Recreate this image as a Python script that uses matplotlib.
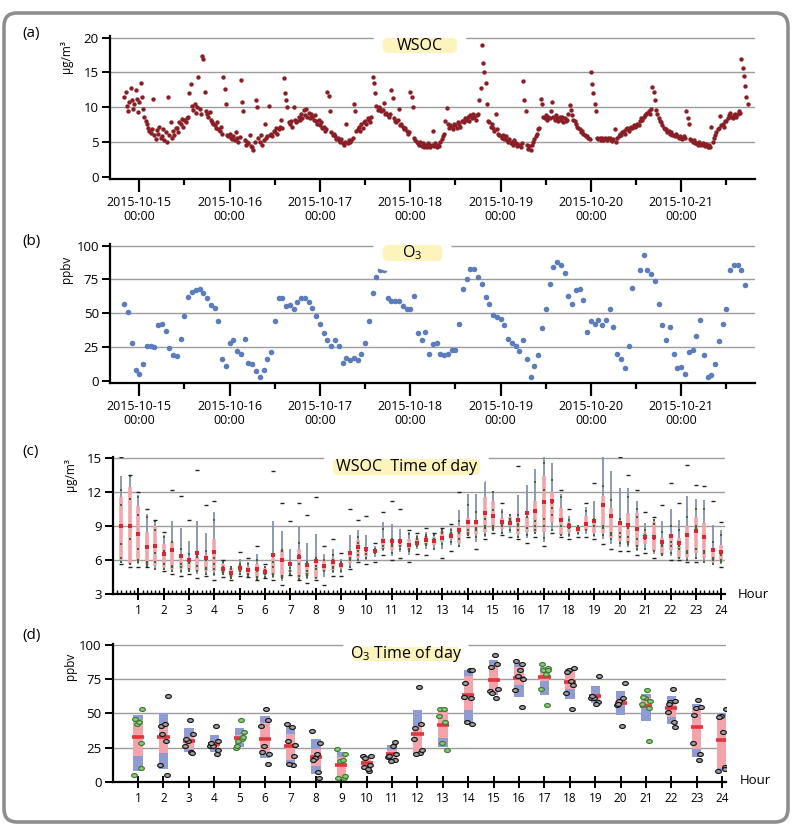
import numpy as np
import matplotlib
matplotlib.use('Agg')
import matplotlib.pyplot as plt
from matplotlib.patches import FancyBboxPatch
from matplotlib.path import Path

plt.rcParams['font.family'] = ['Open Sans', 'DejaVu Sans']
plt.rcParams['mathtext.fontset'] = 'custom'
plt.rcParams['mathtext.rm'] = 'Open Sans'

# ---------------- data ----------------
# WSOC (ug/m3), every 20 min, first sample 2015-10-14 20:00 (hour -4 relative to 10-15 00:00)
WSOC_START_H = -4
WSOC_STEP_H = 1 / 3
wsoc = [
    11.5, 12.2, 10.2, 9.5, 10.8, 12.8, 11.0, 9.8, 10.5, 12.5, 11.2, 9.3,
    # 10-15
    10.8, 13.5, 11.5, 9.8, 8.6, 8.0, 7.6, 7.0, 6.5, 6.3, 6.8, 11.2,
    6.0, 5.4, 6.7, 6.2, 7.2, 5.6, 5.8, 6.9, 5.3, 6.4, 5.0, 11.5,
    6.0, 7.8, 5.5, 6.6, 6.0, 7.0, 7.0, 6.4, 7.8, 7.5, 8.3, 7.2,
    8.2, 7.8, 8.5, 8.6, 12.0, 13.4, 10.2, 9.6, 10.4, 9.2, 10.0, 14.3,
    9.8, 9.0, 17.3, 16.9, 12.2, 9.5, 9.0, 8.6, 9.3, 8.2, 7.8, 7.5,
    7.4, 7.0, 7.8, 6.8, 6.5, 7.2, 6.2, 14.4, 12.6, 10.5, 6.0, 5.8,
    # 10-16
    6.2, 5.6, 5.4, 5.8, 5.2, 6.4, 5.5, 5.0, 5.7, 13.9, 10.8, 9.5,
    5.2, 4.6, 5.0, 4.8, 6.0, 4.4, 4.2, 3.8, 5.0, 11.0, 10.0, 5.5,
    5.0, 6.0, 4.6, 5.2, 7.5, 5.6, 5.8, 10.2, 6.0, 6.2, 5.8, 6.5,
    6.4, 7.0, 6.2, 6.8, 7.2, 8.2, 7.0, 14.2, 12.0, 11.0, 10.0, 7.8,
    7.5, 8.0, 7.2, 10.0, 8.2, 7.8, 8.0, 8.6, 8.2, 9.0, 8.4, 9.6,
    8.8, 9.8, 8.6, 9.2, 8.5, 9.0, 8.6, 8.2, 8.8, 8.0, 7.6, 8.2,
    # 10-17
    7.4, 7.8, 7.0, 7.2, 6.6, 6.8, 12.2, 11.6, 9.5, 6.4, 6.0, 6.2,
    5.8, 5.4, 5.6, 5.2, 5.0, 5.4, 4.8, 4.6, 5.0, 7.5, 4.8, 5.2,
    5.0, 5.3, 5.5, 10.5, 9.5, 6.5, 6.8, 7.2, 6.6, 7.5, 7.0, 7.8,
    8.0, 7.6, 8.4, 8.2, 7.8, 8.6, 14.3, 13.5, 12.0, 10.2, 9.6, 10.0,
    9.8, 9.4, 9.6, 10.6, 9.0, 9.2, 8.8, 8.6, 9.0, 12.5, 11.3, 8.4,
    8.0, 7.8, 8.2, 9.8, 7.4, 7.6, 7.2, 6.8, 7.0, 6.6, 6.2, 6.4,
    # 10-18
    12.2, 11.4, 10.0, 5.6, 5.2, 5.0, 4.8, 4.6, 5.0, 4.4, 4.8, 4.2,
    4.5, 4.2, 4.8, 4.6, 4.3, 4.5, 6.5, 4.4, 4.8, 4.2, 4.6, 4.4,
    5.0, 5.4, 5.8, 6.2, 8.0, 9.9, 7.5, 7.0, 7.4, 7.2, 6.8, 7.6,
    7.4, 7.0, 7.8, 7.6, 7.2, 8.0, 8.0, 7.8, 8.4, 8.2, 8.6, 8.0,
    8.8, 8.4, 9.0, 8.6, 8.2, 8.8, 9.0, 11.0, 12.8, 18.9, 16.3, 15.1,
    13.5, 10.5, 8.0, 7.8, 7.2, 7.6, 7.0, 6.6, 9.0, 6.8, 6.2, 6.0,
    # 10-19
    5.8, 5.6, 6.0, 5.4, 5.8, 5.2, 5.0, 5.4, 4.8, 5.0, 4.6, 5.2,
    4.8, 4.4, 4.6, 4.5, 4.2, 4.8, 13.8, 11.0, 9.4, 4.6, 4.0, 4.4,
    3.8, 4.6, 5.0, 5.4, 5.8, 6.2, 6.8, 7.0, 11.2, 10.5, 8.6, 8.4,
    8.8, 8.2, 8.6, 8.4, 9.4, 10.8, 8.6, 8.2, 8.8, 8.4, 8.0, 8.6,
    8.2, 8.6, 7.9, 8.4, 8.0, 8.2, 9.0, 10.3, 9.6, 8.8, 8.2, 8.0,
    7.6, 7.2, 7.0, 6.8, 6.4, 6.6, 6.2, 6.0, 5.8, 5.8, 5.6, 5.4,
    # 10-20
    15.1, 13.4, 12.0, 10.5, 9.5, 5.6, 5.4, 5.6, 5.2, 5.5, 5.3, 5.6,
    5.4, 5.2, 5.5, 5.6, 5.3, 5.1, 5.4, 6.8, 5.0, 5.6, 5.8, 6.2,
    6.0, 6.4, 6.6, 6.2, 6.8, 7.0, 6.6, 7.0, 7.2, 7.0, 7.4, 7.2,
    7.3, 7.6, 7.4, 8.0, 8.4, 8.2, 8.6, 8.8, 9.0, 9.2, 9.4, 9.0,
    9.8, 12.9, 12.2, 11.0, 9.6, 9.0, 8.4, 8.0, 7.8, 7.4, 7.0, 6.8,
    6.8, 6.4, 6.6, 6.2, 6.4, 6.0, 6.0, 5.8, 6.2, 5.8, 5.6, 5.9,
    # 10-21
    5.6, 5.4, 5.8, 5.5, 9.4, 8.5, 7.6, 5.4, 5.2, 5.0, 5.2, 4.8,
    4.9, 4.6, 5.0, 4.7, 4.5, 4.8, 4.6, 4.4, 4.7, 4.3, 4.5, 4.2,
    7.2, 5.0, 5.6, 6.0, 6.4, 6.8, 7.0, 8.7, 7.4, 7.6, 7.2, 8.0,
    8.0, 8.4, 8.8, 9.2, 8.6, 8.4, 8.8, 9.0, 8.6, 9.0, 9.4, 9.2,
    16.9, 15.6, 14.5, 13.0, 11.5, 10.5,
]

# O3 (ppbv), hourly, first sample 2015-10-14 20:00
O3_START_H = -4
nan = float('nan')
o3 = [
    57, 51, 28, 8,
    # 10-15
    5, 12, 26, 26, 25, 41, 42, 37, 24, 19, 18, 31,
    48, 62, 66, 67, 68, 65, 61, 56, 54, 44, 16, 11,
    # 10-16
    28, 30, 22, 20, 31, 13, 12, 7, 3, 8, 16, 21,
    44, 61, 61, 55, 56, 53, 58, 61, 61, 58, 54, 48,
    # 10-17
    42, 35, 30, 26, 30, 26, 13, 17, 15, 17, 15, 20,
    28, 44, 65, 77, 82, 82, 61, 59, 59, 59, 55, 53,
    # 10-18
    53, 63, 35, 30, 36, 20, 27, 28, 20, 19, 20, 23,
    23, 42, 68, 75, 83, 83, 77, 72, 62, 57, 49, 47,
    # 10-19
    46, 41, 31, 28, 26, 22, 30, 16, 3, 11, 19, 39,
    53, 72, 84, 88, 86, 80, 63, 57, 67, 68, 60, 36,
    # 10-20
    44, 42, 45, 41, 45, 53, 40, 20, 16, 9, 26, 69,
    nan, 82, 93, 82, 79, 74, 57, 41, 30, 40, 20, 9,
    # 10-21
    10, 5, 21, 23, 33, 45, 19, 3, 4, 12, 29, 42,
    53, 82, 86, 86, 82, 71,
]

date_ticks_h = [0, 24, 48, 72, 96, 120, 144]
date_labels = ['2015-10-15\n00:00', '2015-10-16\n00:00', '2015-10-17\n00:00',
               '2015-10-18\n00:00', '2015-10-19\n00:00', '2015-10-20\n00:00',
               '2015-10-21\n00:00']
hour_ticks = list(range(1, 25))
hour_labels = [str(h) for h in hour_ticks]
green_hours = [1, 5, 9, 13, 17, 21]

# ---------------- figure ----------------
W, H = 800, 832
fig = plt.figure(figsize=(W / 100, H / 100), dpi=100)


def fx(px):
    return px / W


def fy(py):
    return 1 - py / H


border = FancyBboxPatch((fx(4), fy(822)), fx(784), (822 - 13) / H,
                        boxstyle='round,pad=0,rounding_size=0.016',
                        transform=fig.transFigure, fc='white', ec='#8e8e8e',
                        lw=2.6, zorder=-10)
fig.patches.append(border)

GRID = '#9d9d9d'


def add_axes(l, t, r, b):
    ax = fig.add_axes([fx(l), fy(b), fx(r - l), (b - t) / H])
    ax.set_facecolor('none')
    for s in ['top', 'right']:
        ax.spines[s].set_visible(False)
    for s in ['left', 'bottom']:
        ax.spines[s].set_linewidth(1.6)
    ax.tick_params(axis='y', direction='out', length=6, width=1.4,
                   labelsize=9.5, pad=2)
    return ax


def badge(l, t, r, b, text, size=11):
    p = FancyBboxPatch((fx(l), fy(b)), fx(r - l), (b - t) / H,
                       boxstyle='round,pad=0,rounding_size=0.0125',
                       transform=fig.transFigure, fc='#fcf3bd', ec='white',
                       lw=7, zorder=5)
    fig.patches.append(p)
    fig.text(fx((l + r) / 2), fy((t + b) / 2), text, ha='center', va='center',
             fontsize=size, zorder=6)


def ylab(x, top, text):
    fig.text(fx(x), fy(top), text, rotation=90, ha='center', va='top',
             fontsize=8.5)


def time_axis(ax):
    ax.set_xlim(-7.79, 163.6)
    ax.set_xticks(date_ticks_h)
    ax.set_xticklabels(date_labels, fontsize=9, linespacing=1.15)
    ax.set_xticks([d + 12 for d in date_ticks_h], minor=True)
    ax.tick_params(axis='x', which='major', direction='out', length=9,
                   width=1.6, pad=3)
    ax.tick_params(axis='x', which='minor', direction='out', length=4,
                   width=1.6)


# ---- (a) WSOC time series ----
wsoc_arr = np.array(wsoc, dtype=float)
t_wsoc = WSOC_START_H + np.arange(len(wsoc_arr)) * WSOC_STEP_H
ax_a = add_axes(110, 35.6, 755, 179)
for v in [5, 10, 15, 20]:
    ax_a.axhline(v, color=GRID, lw=1.0, zorder=0)
ax_a.scatter(t_wsoc, wsoc_arr, s=10, c='#8a1e24', lw=0, zorder=3)
ax_a.set_ylim(-0.35, 20.3)
ax_a.set_yticks([0, 5, 10, 15, 20])
time_axis(ax_a)
badge(378, 33, 462, 58, 'WSOC', 11.5)
ylab(67, 40, 'μg/m³')
fig.text(fx(22), fy(33), '(a)', fontsize=11, va='center')

# ---- (b) O3 time series ----
o3_arr = np.array(o3, dtype=float)
t_o3 = O3_START_H + np.arange(len(o3_arr))
ax_b = add_axes(110, 244.4, 755, 383.3)
for v in [25, 50, 75, 100]:
    ax_b.axhline(v, color=GRID, lw=1.0, zorder=0)
ax_b.scatter(t_o3, o3_arr, s=16, c='#5b7cbd', lw=0, zorder=3)
ax_b.set_ylim(-2, 101)
ax_b.set_yticks([0, 25, 50, 75, 100])
time_axis(ax_b)
badge(378, 240, 447, 266, 'O$_{3}$', 11.5)
ylab(66, 256, 'ppbv')
fig.text(fx(22), fy(241), '(b)', fontsize=11, va='center')


def hour_axis(ax, minor):
    ax.set_xlim(0, 24.15)
    ax.set_xticks(hour_ticks)
    ax.set_xticklabels(hour_labels, fontsize=8.5)
    ax.tick_params(axis='x', which='major', direction='inout', length=8,
                   width=1.4, pad=3)
    if minor:
        ax.set_xticks([k / 6 for k in range(1, 145) if k % 6], minor=True)
        ax.tick_params(axis='x', which='minor', direction='in', length=3,
                       width=1.0)


# ---- (c) WSOC time of day ----
ax_c = add_axes(113, 456.6, 725, 594)
for v in [6, 9, 12, 15]:
    ax_c.axhline(v, color=GRID, lw=1.0, zorder=0)
tod_bin = np.round(np.mod(t_wsoc, 24) * 3).astype(int) % 72
xs_in, ys_in, xs_out, ys_out, xm, ym = [], [], [], [], [], []
for b in range(72):
    vals = wsoc_arr[tod_bin == b]
    if len(vals) == 0:
        continue
    x = b / 3 + 1 / 3
    p10, p25, p75, p90 = np.percentile(vals, [10, 25, 75, 90])
    ax_c.vlines(x, p10, p90, color='#8592ad', lw=1.3, zorder=2)
    ax_c.vlines(x, p25, p75, color='#f2a4ab', lw=2.6, zorder=3)
    for v in vals:
        if p10 <= v <= p90:
            xs_in.append(x); ys_in.append(v)
        else:
            xs_out.append(x); ys_out.append(v)
    xm.append(x); ym.append(vals.mean())
ax_c.scatter(xs_in, ys_in, s=3, c='#3f6a3b', marker='s', lw=0, zorder=4)
ax_c.scatter(xs_out, ys_out, s=6, c='#222222', marker='_', lw=1.0, zorder=4)
ax_c.scatter(xm, ym, s=7, c='#d8262f', marker='s', lw=0, zorder=5)
ax_c.set_ylim(3, 15.1)
ax_c.set_yticks([3, 6, 9, 12, 15])
hour_axis(ax_c, True)
badge(328, 454, 485, 480, 'WSOC  Time of day', 11.5)
ylab(70, 458, 'μg/m³')
fig.text(fx(22), fy(452), '(c)', fontsize=11, va='center')
fig.text(fx(738), fy(595), 'Hour', fontsize=9.5, va='center')

# ---- (d) O3 time of day ----
ax_d = add_axes(112.7, 643.6, 726, 782.4)
for v in [25, 50, 75, 100]:
    ax_d.axhline(v, color=GRID, lw=1.0, zorder=0)
hod = np.mod(t_o3, 24).astype(int)
theta = np.linspace(0, 2 * np.pi, 40)
ellipse = Path(np.column_stack([1.45 * np.cos(theta), np.sin(theta)]))
jitter = [-0.15, 0.1, -0.05, 0.16, -0.11, 0.05, 0.13, -0.08]
for k in range(24):
    vals = o3_arr[(hod == k) & ~np.isnan(o3_arr)]
    x = k + 1
    p10, p25, p75, p90 = np.percentile(vals, [10, 25, 75, 90])
    ax_d.bar(x, p90 - p10, bottom=p10, width=0.37, color='#8f9bd3', lw=0,
             zorder=2)
    ax_d.bar(x, p75 - p25, bottom=p25, width=0.37, color='#f4a3aa', lw=0,
             zorder=3)
    ax_d.hlines(vals.mean(), x - 0.24, x + 0.24, color='#e2353d', lw=2.6,
                zorder=4)
    if x in green_hours:
        fc, ec = '#8ccb78', '#3d7a33'
    else:
        fc, ec = '#a3a3a3', '#151515'
    offs = [x + jitter[i % len(jitter)] for i in range(len(vals))]
    ax_d.scatter(offs, vals, s=17, marker=ellipse, facecolors=fc,
                 edgecolors=ec, linewidths=0.85, zorder=5)
ax_d.set_ylim(-0.5, 101)
ax_d.set_yticks([0, 25, 50, 75, 100])
hour_axis(ax_d, False)
badge(347, 642, 465, 666, 'O$_{3}$ Time of day', 11.5)
ylab(70, 653, 'ppbv')
fig.text(fx(22), fy(636), '(d)', fontsize=11, va='center')
fig.text(fx(740), fy(781), 'Hour', fontsize=9.5, va='center')

fig.savefig('out.png', dpi=100)
